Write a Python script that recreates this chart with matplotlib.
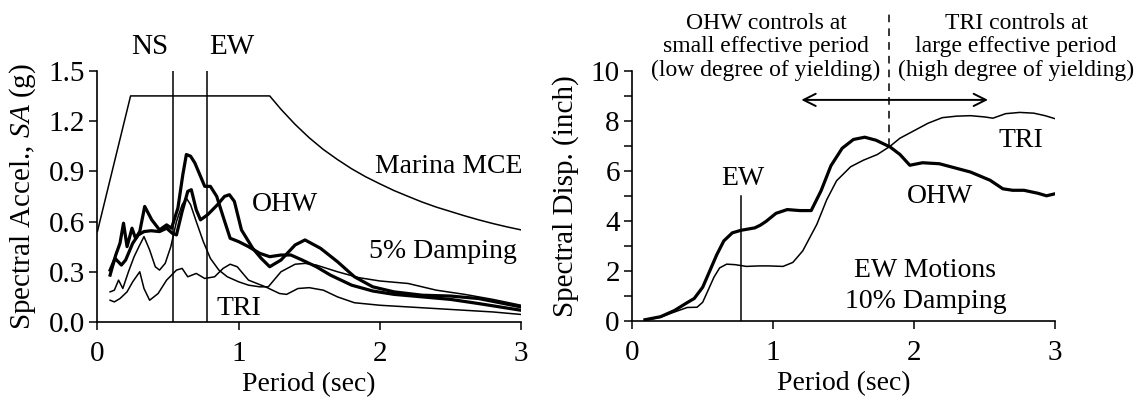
import matplotlib.pyplot as plt

plt.rcParams['font.family'] = 'Liberation Serif'
plt.rcParams['mathtext.fontset'] = 'custom'
plt.rcParams['mathtext.rm'] = 'Liberation Serif'
plt.rcParams['mathtext.it'] = 'Liberation Serif:italic'

# --- spectral acceleration, 5% damping ---
mce_t = [0.0, 0.235, 1.22, 1.3, 1.4, 1.5, 1.6, 1.7, 1.8, 1.9, 2.0, 2.1, 2.2, 2.3, 2.4,
         2.5, 2.6, 2.7, 2.8, 2.9, 3.0]
mce_sa = [0.54, 1.35, 1.35, 1.27, 1.18, 1.10, 1.03, 0.97, 0.915, 0.867, 0.825, 0.785,
          0.75, 0.716, 0.686, 0.66, 0.634, 0.61, 0.588, 0.568, 0.55]

ohw1_t = [0.09, 0.13, 0.16, 0.185, 0.21, 0.245, 0.27, 0.30, 0.335, 0.385, 0.44, 0.49,
          0.525, 0.57, 0.605, 0.63, 0.66, 0.69, 0.73, 0.76, 0.80, 0.845, 0.89, 0.94,
          1.0, 1.07, 1.15, 1.22, 1.30, 1.37, 1.45, 1.55, 1.65, 1.8, 1.95, 2.1, 2.3,
          2.5, 2.7, 2.85, 3.0]
ohw1_sa = [0.28, 0.40, 0.47, 0.59, 0.45, 0.56, 0.50, 0.54, 0.69, 0.61, 0.55, 0.58,
           0.56, 0.68, 0.88, 1.00, 0.99, 0.95, 0.87, 0.81, 0.81, 0.75, 0.63, 0.50,
           0.48, 0.45, 0.41, 0.39, 0.40, 0.40, 0.37, 0.33, 0.28, 0.22, 0.185, 0.165,
           0.15, 0.135, 0.11, 0.09, 0.07]

ohw2_t = [0.09, 0.125, 0.17, 0.20, 0.25, 0.29, 0.33, 0.38, 0.44, 0.49, 0.53, 0.56,
          0.60, 0.64, 0.665, 0.70, 0.73, 0.78, 0.85, 0.90, 0.935, 0.97, 1.02, 1.10,
          1.16, 1.22, 1.30, 1.40, 1.47, 1.58, 1.70, 1.82, 1.95, 2.1, 2.3, 2.5, 2.7,
          2.85, 3.0]
ohw2_sa = [0.31, 0.38, 0.34, 0.37, 0.47, 0.52, 0.54, 0.545, 0.54, 0.56, 0.53, 0.52,
           0.66, 0.78, 0.79, 0.67, 0.61, 0.64, 0.70, 0.75, 0.76, 0.72, 0.55, 0.44,
           0.38, 0.33, 0.37, 0.46, 0.49, 0.44, 0.36, 0.27, 0.21, 0.18, 0.16, 0.155,
           0.14, 0.115, 0.09]

tri1_t = [0.09, 0.12, 0.15, 0.18, 0.22, 0.26, 0.30, 0.33, 0.37, 0.41, 0.44, 0.48,
          0.52, 0.56, 0.60, 0.63, 0.66, 0.70, 0.75, 0.80, 0.86, 0.92, 1.0, 1.07,
          1.15, 1.21, 1.25, 1.30, 1.40, 1.47, 1.55, 1.7, 1.85, 2.0, 2.2, 2.4, 2.6,
          2.8, 3.0]
tri1_sa = [0.18, 0.19, 0.25, 0.20, 0.30, 0.39, 0.46, 0.51, 0.43, 0.33, 0.31, 0.35,
           0.45, 0.60, 0.70, 0.74, 0.70, 0.60, 0.48, 0.38, 0.31, 0.27, 0.24, 0.22,
           0.21, 0.21, 0.25, 0.30, 0.345, 0.35, 0.34, 0.30, 0.265, 0.245, 0.23,
           0.19, 0.165, 0.135, 0.10]

tri2_t = [0.09, 0.12, 0.16, 0.21, 0.25, 0.30, 0.33, 0.37, 0.43, 0.49, 0.56, 0.60,
          0.64, 0.70, 0.76, 0.83, 0.89, 0.94, 0.99, 1.07, 1.19, 1.29, 1.34, 1.42,
          1.50, 1.6, 1.7, 1.82, 2.0, 2.2, 2.4, 2.6, 2.8, 3.0]
tri2_sa = [0.13, 0.12, 0.14, 0.18, 0.24, 0.30, 0.20, 0.13, 0.17, 0.25, 0.31, 0.32,
           0.27, 0.29, 0.26, 0.27, 0.32, 0.345, 0.33, 0.25, 0.21, 0.17, 0.165, 0.20,
           0.205, 0.19, 0.15, 0.115, 0.10, 0.09, 0.08, 0.07, 0.06, 0.045]

ns_period = 0.535
ew_period = 0.775

# --- spectral displacement, EW motions, 10% damping ---
ohw_sd_t = [0.09, 0.2, 0.3, 0.38, 0.44, 0.5, 0.55, 0.6, 0.65, 0.71, 0.77, 0.83, 0.87,
            0.91, 0.95, 1.02, 1.1, 1.19, 1.27, 1.34, 1.41, 1.49, 1.57, 1.65, 1.73,
            1.83, 1.9, 1.97, 2.06, 2.18, 2.3, 2.4, 2.54, 2.63, 2.7, 2.78, 2.88, 2.94,
            3.0]
ohw_sd = [0.05, 0.17, 0.42, 0.7, 0.9, 1.35, 2.0, 2.65, 3.2, 3.52, 3.62, 3.68, 3.72,
          3.83, 3.98, 4.3, 4.45, 4.41, 4.41, 5.2, 6.2, 6.9, 7.25, 7.34, 7.22, 6.95,
          6.65, 6.22, 6.32, 6.28, 6.1, 5.95, 5.62, 5.28, 5.22, 5.22, 5.1, 5.0, 5.08]

tri_sd_t = [0.09, 0.2, 0.27, 0.33, 0.39, 0.46, 0.5, 0.54, 0.58, 0.62, 0.67, 0.73,
            0.81, 0.9, 0.97, 1.07, 1.14, 1.21, 1.31, 1.38, 1.45, 1.55, 1.64, 1.74,
            1.83, 1.9, 2.0, 2.1, 2.2, 2.3, 2.4, 2.5, 2.56, 2.65, 2.75, 2.85, 2.93, 3.0]
tri_sd = [0.03, 0.15, 0.3, 0.42, 0.54, 0.55, 0.75, 1.25, 1.75, 2.12, 2.27, 2.25,
          2.18, 2.2, 2.2, 2.18, 2.34, 2.8, 3.86, 4.84, 5.6, 6.16, 6.42, 6.65, 6.98,
          7.3, 7.6, 7.9, 8.12, 8.18, 8.2, 8.15, 8.1, 8.28, 8.33, 8.3, 8.2, 8.08]

thick = 2.3
thin = 1.1
fs = 20      # in-plot labels
tfs = 21     # tick labels

fig = plt.figure(figsize=(11.39, 4.0), dpi=100)
ax1 = fig.add_axes([0.0855, 0.195, 0.372, 0.628])
ax2 = fig.add_axes([0.5551, 0.1975, 0.3711, 0.626])

for ax in (ax1, ax2):
    ax.spines['top'].set_visible(False)
    ax.spines['right'].set_visible(False)
    ax.spines['left'].set_linewidth(1.2)
    ax.spines['bottom'].set_linewidth(1.2)
    ax.tick_params(which='both', direction='out', length=6, width=1.1,
                   labelsize=tfs, pad=3)
    ax.tick_params(axis='x', pad=8)
    ax.set_xlim(0, 3)
    ax.set_xticks([0, 1, 2, 3])
    ax.set_xlabel('Period (sec)', fontsize=20)
    ax.xaxis.set_label_coords(0.5, -0.2)

# left panel
ax1.plot(mce_t, mce_sa, color='k', lw=thin)
ax1.plot(ohw1_t, ohw1_sa, color='k', lw=thick)
ax1.plot(ohw2_t, ohw2_sa, color='k', lw=thick)
ax1.plot(tri1_t, tri1_sa, color='k', lw=thin)
ax1.plot(tri2_t, tri2_sa, color='k', lw=thin)
ax1.plot([ns_period, ns_period], [0, 1.5], color='k', lw=thin)
ax1.plot([ew_period, ew_period], [0, 1.5], color='k', lw=thin)
ax1.set_ylim(0, 1.5)
ax1.set_yticks([0.0, 0.3, 0.6, 0.9, 1.2, 1.5])
ax1.set_yticklabels(['0.0', '0.3', '0.6', '0.9', '1.2', '1.5'])
ax1.set_ylabel('Spectral Accel., $\\mathit{SA}$ (g)', fontsize=21)
ax1.yaxis.set_label_coords(-0.14, 0.5)
ax1.text(ns_period - 0.03, 1.64, 'NS', ha='right', va='center', fontsize=tfs)
ax1.text(ew_period + 0.02, 1.64, 'EW', ha='left', va='center', fontsize=tfs)
ax1.text(2.49, 0.93, 'Marina MCE', ha='center', va='center', fontsize=fs)
ax1.text(1.33, 0.70, 'OHW', ha='center', va='center', fontsize=fs)
ax1.text(2.45, 0.42, '5% Damping', ha='center', va='center', fontsize=fs)
ax1.text(1.0, 0.08, 'TRI', ha='center', va='center', fontsize=fs)

# right panel
ax2.plot(ohw_sd_t, ohw_sd, color='k', lw=thick)
ax2.plot(tri_sd_t, tri_sd, color='k', lw=thin)
ax2.plot([ew_period, ew_period], [0, 5.0], color='k', lw=thin)
ax2.set_ylim(0, 10)
ax2.set_yticks([0, 2, 4, 6, 8, 10])
ax2.set_yticks([1, 3, 5, 7, 9], minor=True)
ax2.set_ylabel('Spectral Disp. (inch)', fontsize=21)
ax2.yaxis.set_label_coords(-0.125, 0.5)
ax2.plot([1.825, 1.825], [7.0, 12.4], color='k', lw=thin, ls=(0, (5, 4)),
         clip_on=False)
ax2.annotate('', xy=(1.2, 8.83), xytext=(2.525, 8.83),
             arrowprops=dict(arrowstyle='<->', color='k', lw=1.4,
                             mutation_scale=22, shrinkA=0, shrinkB=0))
ax2.text(0.95, 10.95, 'OHW controls at\nsmall effective period\n(low degree of yielding)',
         ha='center', va='center', fontsize=17, linespacing=1.15)
ax2.text(2.725, 10.95, 'TRI controls at\nlarge effective period\n(high degree of yielding)',
         ha='center', va='center', fontsize=17, linespacing=1.15)
ax2.text(0.786, 5.7, 'EW', ha='center', va='center', fontsize=fs)
ax2.text(2.76, 7.22, 'TRI', ha='center', va='center', fontsize=fs)
ax2.text(2.185, 4.98, 'OHW', ha='center', va='center', fontsize=fs)
ax2.text(2.08, 1.4, 'EW Motions\n10% Damping', ha='center', va='center',
         fontsize=fs, linespacing=1.35)

fig.savefig('out.png', dpi=100)
